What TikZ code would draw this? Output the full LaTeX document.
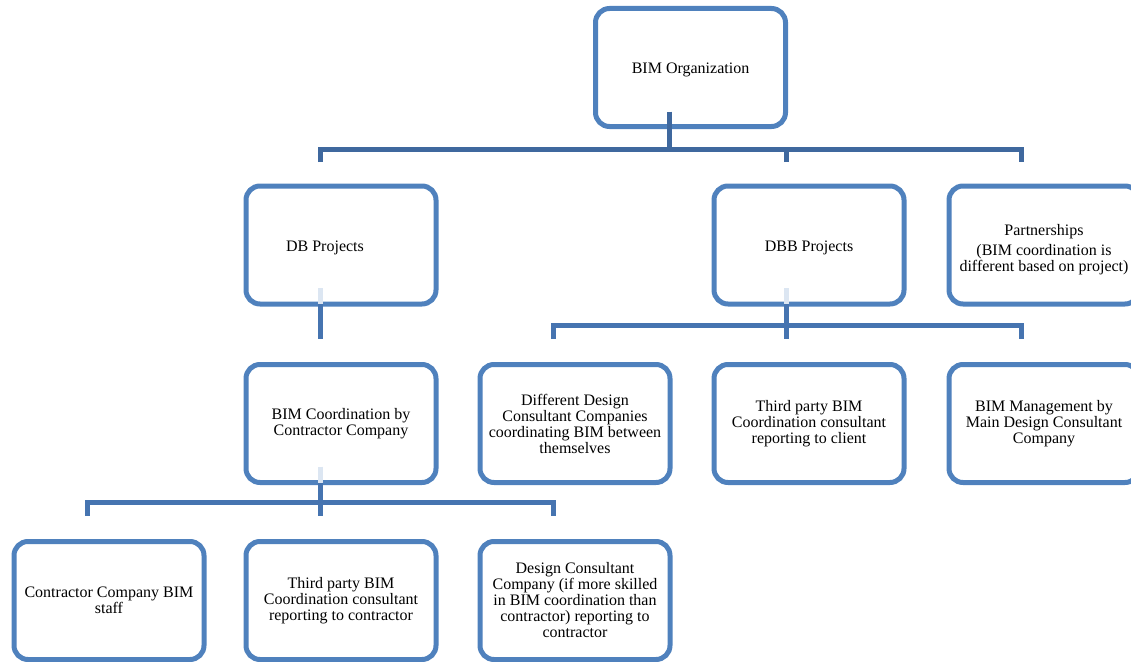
\documentclass[tikz,border=0pt]{standalone}
\usepackage{fontspec}
\setmainfont{Liberation Serif}
\usetikzlibrary{calc}
\definecolor{boxblue}{HTML}{4F81BD}
\definecolor{busdark}{HTML}{3F689E}
\definecolor{busmid}{HTML}{4674B0}
\definecolor{stempale}{HTML}{DCE6F2}
\begin{document}
\begin{tikzpicture}[x=1pt,y=-1pt,
  unitbox/.style={draw=boxblue, fill=white, line width=5pt, rounded corners=14pt,
    minimum width=190pt, minimum height=118pt, inner sep=0pt, outer sep=0pt,
    align=center, font=\fontsize{16}{16}\selectfont},
  lowtext/.style={execute at begin node={\rule{0pt}{15.5pt}}},
  bus/.style={draw=busmid, line width=5pt},
  topbus/.style={draw=busdark, line width=5pt},
  palestem/.style={draw=stempale, line width=5pt}]
\useasboundingbox (0,0) rectangle (1131,661);
\clip (0,0) rectangle (1131,661);

% boxes
\node[unitbox,lowtext] (org) at (690.5,67.5) {BIM Organization};
\node[unitbox,lowtext] (db)  at (341,245)    {DB Projects\hspace*{32pt}};
\node[unitbox,lowtext] (dbb) at (809,245)    {DBB Projects};
\node[unitbox] (pt) at (1044,245) {\rule{0pt}{20pt}Partnerships\\[4pt](BIM coordination is\\different based on project)};
\node[unitbox] (coord) at (341,423.5)  {BIM Coordination by\\Contractor Company};
\node[unitbox] (diff)  at (575,423.5)  {Different Design\\Consultant Companies\\coordinating BIM between\\themselves};
\node[unitbox] (third) at (809,423.5)  {Third party BIM\\Coordination consultant\\reporting to client};
\node[unitbox] (mgmt)  at (1044,423.5) {BIM Management by\\Main Design Consultant\\Company};
\node[unitbox] (staff) at (109,600.5)  {Contractor Company BIM\\staff};
\node[unitbox] (tpc)   at (341,600.5)  {Third party BIM\\Coordination consultant\\reporting to contractor};
\node[unitbox] (dcc)   at (575,600.5)  {Design Consultant\\Company (if more skilled\\in BIM coordination than\\contractor) reporting to\\contractor};

% first level: organization to project types
\coordinate (o1) at ($(org.south)+(-21,-15)$);
\coordinate (o2) at ($(org.south)+(-21,22.5)$);
\coordinate (dA) at ($(db.north)+(-21,-24)$);
\coordinate (dB) at ($(dbb.north)+(-23,-24)$);
\coordinate (dC) at ($(pt.north)+(-23,-24)$);
\draw[topbus] (dA) |- (o2) -| (dC);
\draw[topbus] (o1) -- (o2);
\draw[topbus] (dB) -- (dB |- o2);

% DB projects to contractor coordination
\coordinate (e1) at ($(db.south)+(-21,-16)$);
\coordinate (e2) at ($(db.south)+(-21,0)$);
\coordinate (e3) at ($(coord.north)+(-21,-26)$);
\draw[palestem] (e1) -- (e2);
\draw[bus] (e2) -- (e3);

% DBB projects to its coordination options
\coordinate (s1) at ($(dbb.south)+(-23,-16)$);
\coordinate (s2) at ($(dbb.south)+(-23,0)$);
\coordinate (s3) at ($(third.north)+(-23,-26)$);
\coordinate (b2) at ($(dbb.south)+(-23,21)$);
\coordinate (sL) at ($(diff.north)+(-22,-26)$);
\coordinate (sR) at ($(mgmt.north)+(-23,-26)$);
\draw[palestem] (s1) -- (s2);
\draw[bus] (sL) |- (b2) -| (sR);
\draw[bus] (s2) -- (s3);

% contractor coordination to its staffing options
\coordinate (c1) at ($(coord.south)+(-21,-16)$);
\coordinate (c2) at ($(coord.south)+(-21,0)$);
\coordinate (c3) at ($(tpc.north)+(-21,-26)$);
\coordinate (b3) at ($(coord.south)+(-21,19.5)$);
\coordinate (cL) at ($(staff.north)+(-22,-26)$);
\coordinate (cR) at ($(dcc.north)+(-22,-26)$);
\draw[palestem] (c1) -- (c2);
\draw[bus] (cL) |- (b3) -| (cR);
\draw[bus] (c2) -- (c3);
\end{tikzpicture}
\end{document}
